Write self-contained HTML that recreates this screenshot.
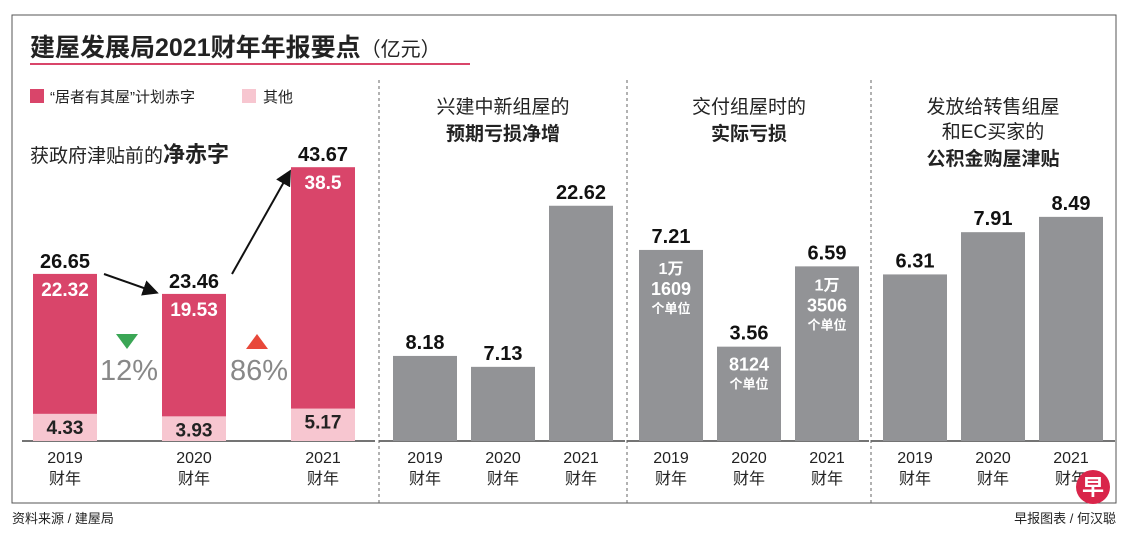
<!DOCTYPE html>
<html><head><meta charset="utf-8"><style>
body{margin:0;background:#fff;width:1140px;height:537px;overflow:hidden;font-family:"Liberation Sans","Noto Sans CJK SC",sans-serif}
svg text{font-family:"Liberation Sans","Noto Sans CJK SC",sans-serif}
</style></head><body>
<svg id="c" width="1140" height="537" viewBox="0 0 1140 537" xmlns="http://www.w3.org/2000/svg">
<rect x="12" y="15" width="1104" height="488" fill="none" stroke="#555" stroke-width="1"/>
<text x="30" y="56" font-size="25" font-weight="bold" fill="#222">建屋发展局2021财年年报要点<tspan font-size="20" font-weight="normal">（亿元）</tspan></text>
<line x1="30" y1="64" x2="470" y2="64" stroke="#d9456a" stroke-width="2"/>
<rect x="30" y="89" width="14" height="14" fill="#d9456a"/>
<text x="50" y="102" font-size="15" fill="#222">“居者有其屋”计划赤字</text>
<rect x="242" y="89" width="14" height="14" fill="#f7c6d0"/>
<text x="263" y="102" font-size="15" fill="#222">其他</text>
<text x="30" y="162" font-size="19" fill="#222">获政府津贴前的<tspan font-weight="bold" font-size="22">净赤字</tspan></text>
<text text-anchor="middle" font-size="19" fill="#222"><tspan x="503" y="113">兴建中新组屋的</tspan><tspan x="503" y="140" font-weight="bold">预期亏损净增</tspan></text>
<text text-anchor="middle" font-size="19" fill="#222"><tspan x="749" y="113">交付组屋时的</tspan><tspan x="749" y="140" font-weight="bold">实际亏损</tspan></text>
<text text-anchor="middle" font-size="19" fill="#222"><tspan x="993" y="113">发放给转售组屋</tspan><tspan x="993" y="138">和EC买家的</tspan><tspan x="993" y="165" font-weight="bold">公积金购屋津贴</tspan></text>
<g id="g"></g>
<text x="12" y="523" font-size="13" fill="#222">资料来源 / 建屋局</text>
<text x="1116" y="523" font-size="13" fill="#222" text-anchor="end">早报图表 / 何汉聪</text>
<circle cx="1093" cy="487" r="17" fill="#d9254a"/>
<text x="1093" y="495" font-size="22" font-weight="bold" fill="#fff" text-anchor="middle">早</text>
</svg>
<script>
const years=["2019","2020","2021"];
const hdbDeficit=[22.32,19.53,38.5];
const otherDeficit=[4.33,3.93,5.17];
const netDeficit=[26.65,23.46,43.67];
const projectedLoss=[8.18,7.13,22.62];
const actualLoss=[7.21,3.56,6.59];
const unitsTop=["1万","","1万"];
const unitsMain=["1609","8124","3506"];
const cpfGrant=[6.31,7.91,8.49];
const changes=["12%","86%"];
const NS="http://www.w3.org/2000/svg",g=document.getElementById('g');
const base=441,bw=64;
function el(t,a,txt){const e=document.createElementNS(NS,t);for(const k in a)e.setAttribute(k,a[k]);if(txt!==undefined)e.textContent=txt;g.appendChild(e);return e;}
const p1x=[33,162,291],p2x=[393,471,549],p3x=[639,717,795],p4x=[883,961,1039];
const s1=v=>v*6.27,s2=v=>v*10.4,s3=v=>v*26.5,s4=v=>v*26.4;
[[22,375],[379,625],[627,869],[871,1115]].forEach((r,i)=>{let e=el('line',{x1:r[0],x2:r[1],y1:base,y2:base,stroke:'#222','stroke-width':1.3});

});
[379,627,871].forEach((x,i)=>{let e=el('line',{x1:x,x2:x,y1:80,y2:503,stroke:'#666','stroke-dasharray':'3,3'});

});
function yr(x,i){let t=el('text',{x:x+bw/2,y:463,'font-size':16,'text-anchor':'middle',fill:'#222'},years[i]);


let t2=el('text',{x:x+bw/2,y:484,'font-size':16,'text-anchor':'middle',fill:'#222'},'财年');

}
years.forEach((y,i)=>{const x=p1x[i];const ho=s1(otherDeficit[i]),hh=s1(hdbDeficit[i]);
let r=el('rect',{x:x,y:base-ho,width:bw,height:ho,fill:'#f7c6d0'});


let r2=el('rect',{x:x,y:base-ho-hh,width:bw,height:hh,fill:'#d9456a'});


let t=el('text',{x:x+bw/2,y:base-ho+20,'font-size':19,'font-weight':'bold','text-anchor':'middle',fill:'#222'},otherDeficit[i]);


let t2=el('text',{x:x+bw/2,y:base-ho-hh+22,'font-size':19,'font-weight':'bold','text-anchor':'middle',fill:'#fff'},hdbDeficit[i]);


let t3=el('text',{x:x+bw/2,y:base-s1(netDeficit[i])-6,'font-size':20,'font-weight':'bold','text-anchor':'middle',fill:'#111'},netDeficit[i].toFixed(2));


yr(x,i);});
[[127,'#3aa655',true],[257,'#e8483a',false]].forEach((c,i)=>{const cx=c[0];
let p=el('polygon',{points:c[2]?`${cx-11},334 ${cx+11},334 ${cx},349`:`${cx-11},349 ${cx+11},349 ${cx},334`,fill:c[1]});


let t=el('text',{x:cx+2,y:380,'font-size':29,'text-anchor':'middle',fill:'#888'},changes[i]);

});
el('defs',{}).innerHTML='<marker id="ah" markerWidth="8" markerHeight="8" refX="6" refY="4" orient="auto"><path d="M0,0L8,4L0,8z" fill="#111"/></marker>';
[[104,274,155,292],[232,274,289,173]].forEach(a=>{let l=el('line',{x1:a[0],y1:a[1],x2:a[2],y2:a[3],stroke:'#111','stroke-width':2,'marker-end':'url(#ah)'});

});
function grey(xs,vals,sc,name){vals.forEach((v,i)=>{const h=sc(v),x=xs[i];
let r=el('rect',{x:x,y:base-h,width:bw,height:h,fill:'#929396'});


let t=el('text',{x:x+bw/2,y:base-h-7,'font-size':20,'font-weight':'bold','text-anchor':'middle',fill:'#111'},v.toFixed(2));


yr(x,i);});}
grey(p2x,projectedLoss,s2,'projected-loss');
grey(p3x,actualLoss,s3,'actual-loss');
grey(p4x,cpfGrant,s4,'cpf-grant');
actualLoss.forEach((v,i)=>{const top=base-s3(v),cx=p3x[i]+bw/2;let y=top+24;
if(unitsTop[i]){let t=el('text',{x:cx,y:y,'font-size':16,'font-weight':'bold','text-anchor':'middle',fill:'#fff'},unitsTop[i]);

y+=21;}
let t=el('text',{x:cx,y:y,'font-size':18,'font-weight':'bold','text-anchor':'middle',fill:'#fff'},unitsMain[i]);


let t2=el('text',{x:cx,y:y+18,'font-size':13,'font-weight':'bold','text-anchor':'middle',fill:'#fff'},'个单位');

});
</script>
</body></html>
